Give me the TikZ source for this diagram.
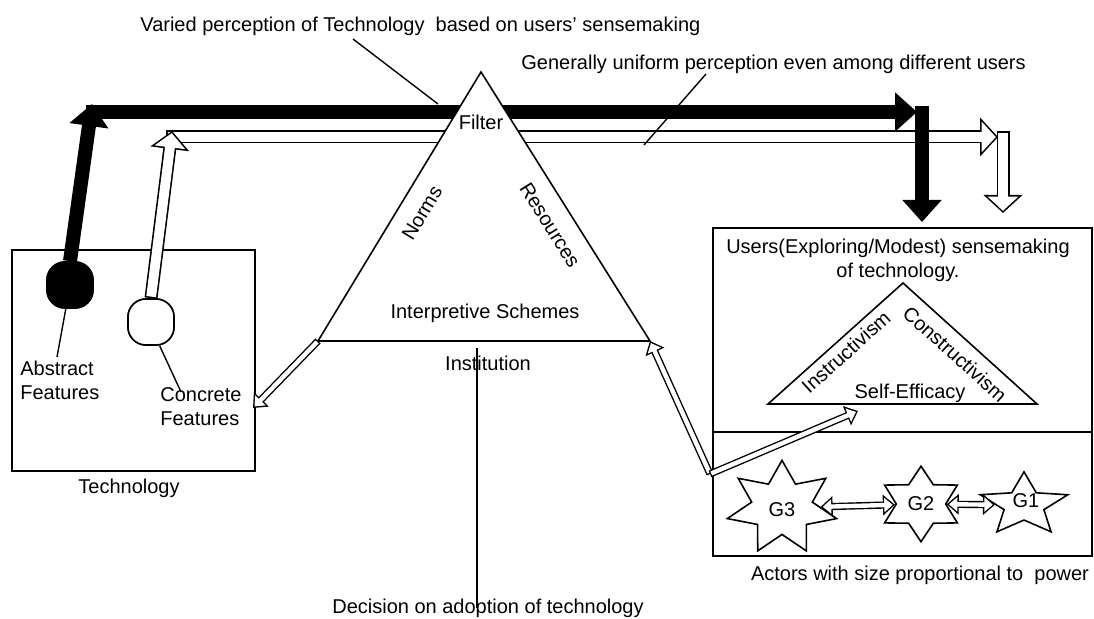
\documentclass[tikz,border=0pt]{standalone}
\usepackage{fontspec}
\setmainfont{Liberation Sans}
\usetikzlibrary{arrows.meta,shapes.geometric}

\begin{document}
\begin{tikzpicture}[x=0.5pt,y=-0.5pt,
  every node/.style={font=\fontsize{10}{12}\selectfont, inner sep=0pt},
  frame/.style={draw, line width=0.8pt},
  leader/.style={line width=0.7pt},
  feature/.style={draw, line width=0.8pt, rounded corners=9pt, minimum size=23pt},
  actor/.style={draw, line width=0.8pt, star, fill=white},
  solidarrow/.style={line width=7pt, -{Triangle[length=11pt,width=19pt]}},
  hollowarrow/.style={line width=6.5pt, -{Triangle[length=9pt,width=19pt]},
    postaction={draw=white, line width=4.9pt, shorten <=0.8pt, shorten >=1.1pt,
      -{Triangle[length=7.1pt,width=15pt]}}},
  hollowthin/.style={line width=3.6pt, -{Triangle[length=6pt,width=10pt]},
    postaction={draw=white, line width=2.2pt, shorten <=0.7pt, shorten >=1.1pt,
      -{Triangle[length=4.2pt,width=7pt]}}},
  hollowboth/.style={line width=3.6pt, {Triangle[length=6pt,width=10pt]}-{Triangle[length=6pt,width=10pt]},
    postaction={draw=white, line width=2.2pt, shorten <=1.1pt, shorten >=1.1pt,
      {Triangle[length=4.2pt,width=7pt]}-{Triangle[length=4.2pt,width=7pt]}}}]
  \useasboundingbox (0,0) rectangle (1094,619);

  % boxes
  \draw[frame] (12,250) rectangle (255,471);
  \draw[frame] (713,228) rectangle (1092,556);
  \draw[frame] (713,432) -- (1092,432);

  % main corners
  \coordinate (tA) at (481,72);
  \coordinate (tL) at (318,341);
  \coordinate (tR) at (650,341);
  \coordinate (sA) at (903,283);
  \coordinate (sL) at (768,404);
  \coordinate (sR) at (1037,404);

  \node[feature, fill=black] (abs) at (70,285) {};
  \node[feature, fill=white] (conc) at (151,322) {};

  % concrete features path
  \coordinate (hup) at (172,131);
  \coordinate (hl) at (166,137);
  \coordinate (hr) at (998,137);
  \coordinate (hd1) at (1003,131);
  \coordinate (hd2) at (1003,213);
  \draw[hollowarrow] (hl) -- (hr);
  \draw[hollowarrow] (hd1) -- (hd2);
  \draw[hollowarrow] (conc.north) -- (hup);

  % abstract features path
  \coordinate (bup) at (92,104);
  \coordinate (bl) at (86,112);
  \coordinate (br) at (917,112);
  \coordinate (bd1) at (922,106);
  \coordinate (bd2) at (922,222);
  \draw[solidarrow] (abs.north) -- (bup);
  \draw[solidarrow] (bl) -- (br);
  \draw[solidarrow] (bd1) -- (bd2);

  % institution
  \draw[frame, fill=white] (tA) -- (tL) -- (tR) -- cycle;
  \node (filter) at (481,122) {Filter};
  \node[rotate=59] (norms) at (422,213) {Norms};
  \node[rotate=-58] (res) at (550,225) {Resources};
  \node (schemes) at (485,313) {Interpretive Schemes};
  \node (inst) at (488,363) {Institution};
  \node (dec) at (488,608) {Decision on adoption of technology};
  \coordinate (itop) at (477,348);
  \draw[leader] (itop) -- (itop |- dec.center);

  % features
  \node[feature, fill=black] at (abs) {};
  \node[feature, fill=white] at (conc) {};
  \node[anchor=west, align=left] (absf) at (20,380) {Abstract\\Features};
  \node[anchor=west, align=left] (concf) at (160,407) {Concrete\\Features};
  \node (tech) at (129,488) {Technology};
  \coordinate (abspin) at (57,357);
  \coordinate (concpin) at (181,392);
  \draw[leader] (abs.260) -- (abspin);
  \draw[leader] (conc.290) -- (concpin);
  \coordinate (tin) at (253,408);
  \draw[hollowthin] (tL) -- (tin);

  % perception notes
  \node[anchor=west] (varied) at (140,26) {Varied perception of Technology\ \ based on users' sensemaking};
  \node[anchor=west] (uniform) at (521,64) {Generally uniform perception even among different users};
  \coordinate (vpin) at (438,104);
  \coordinate (upin) at (644,145);
  \draw[leader] (353,39) -- (vpin);
  \draw[leader] (706,74) -- (upin);

  % users
  \node[align=center] (users) at (898,260) {Users(Exploring/Modest) sensemaking\\of technology.};
  \draw[frame] (sA) -- (sL) -- (sR) -- cycle;
  \node[rotate=42] (instr) at (846,352) {Instructivism};
  \node[rotate=-42] (constr) at (955,354) {Constructivism};
  \node (eff) at (910,393) {Self-Efficacy};

  % actors
  \node[actor, star points=7, star point ratio=1.8, minimum size=56pt, yscale=0.85] (g3) at (782,508) {};
  \node at (782,510) {G3};
  \node[actor, star points=6, star point ratio=1.7, minimum size=42pt, yscale=0.9] (g2) at (921,504) {};
  \node at (g2) {G2};
  \node[actor, star points=5, star point ratio=2.2, minimum size=46pt, yscale=0.72] (g1) at (1024,505) {};
  \node at (1026,501) {G1};
  \draw[hollowboth] (g3) -- (g2);
  \draw[hollowboth] (g2) -- (g1);
  \node (actors) at (920,575) {Actors with size proportional to\ \ power};

  \coordinate (bend) at (710,474);
  \coordinate (stip) at (858,411);
  \draw[hollowthin] (bend) -- (tR);
  \draw[hollowthin] (bend) -- (stip);
\end{tikzpicture}
\end{document}
